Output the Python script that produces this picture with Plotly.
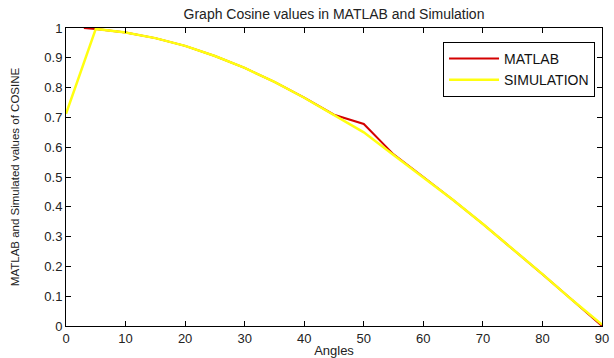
import plotly.graph_objects as go

# Data
matlab_angles = [3, 5, 10, 15, 20, 25, 30, 35, 40, 45, 50, 55, 60, 65, 70, 75, 80, 85, 90]
matlab_values = [1.0, 0.997, 0.985, 0.966, 0.940, 0.906, 0.866, 0.819, 0.766, 0.709, 0.678, 0.576,
                 0.500, 0.423, 0.342, 0.259, 0.174, 0.087, 0.0]

sim_angles = [0, 5, 10, 15, 20, 25, 30, 35, 40, 45, 50, 55, 60, 65, 70, 75, 80, 85, 90]
sim_values = [0.712, 0.997, 0.985, 0.966, 0.940, 0.906, 0.866, 0.819, 0.766, 0.707, 0.650, 0.574,
              0.500, 0.423, 0.342, 0.259, 0.174, 0.087, 0.005]

x_ticks = [0, 10, 20, 30, 40, 50, 60, 70, 80, 90]
y_ticks = [0, 0.1, 0.2, 0.3, 0.4, 0.5, 0.6, 0.7, 0.8, 0.9, 1]
y_tick_labels = ["0", "0.1", "0.2", "0.3", "0.4", "0.5", "0.6", "0.7", "0.8", "0.9", "1"]

FONT = "Liberation Sans, Arial, sans-serif"

fig = go.Figure()
fig.add_trace(go.Scatter(x=matlab_angles, y=matlab_values, mode="lines", name="MATLAB",
                         line=dict(color="#d40000", width=2)))
fig.add_trace(go.Scatter(x=sim_angles, y=sim_values, mode="lines", name="SIMULATION",
                         line=dict(color="#ffff10", width=2.5)))

axis_common = dict(showline=True, linecolor="#000000", linewidth=1, mirror="ticks",
                   ticks="inside", ticklen=5, tickcolor="#000000", showgrid=False,
                   zeroline=False, automargin=False,
                   tickfont=dict(family=FONT, size=13, color="#222222"))

fig.update_layout(
    width=614, height=358,
    margin=dict(l=66, r=12, t=28, b=32),
    paper_bgcolor="white", plot_bgcolor="white",
    title=dict(text="Graph Cosine values in MATLAB and Simulation", x=0.5, xref="paper",
               y=0.96, yref="container", yanchor="middle",
               font=dict(family=FONT, size=14, color="#222222")),
    xaxis=dict(range=[0, 90], tickvals=x_ticks, **axis_common,
               title=dict(text="Angles", standoff=4,
                          font=dict(family=FONT, size=13, color="#222222"))),
    yaxis=dict(range=[0, 1], tickvals=y_ticks, ticktext=y_tick_labels, **axis_common,
               title=dict(text="MATLAB and Simulated values of COSINE", standoff=22,
                          font=dict(family=FONT, size=11.5, color="#222222"))),
    legend=dict(x=0.987, y=0.953, xanchor="right", yanchor="top",
                bordercolor="#000000", borderwidth=1, bgcolor="white",
                font=dict(family=FONT, size=14, color="#111111"),
                tracegroupgap=0, itemwidth=50),
    showlegend=True,
)

fig.write_html("out.html")
